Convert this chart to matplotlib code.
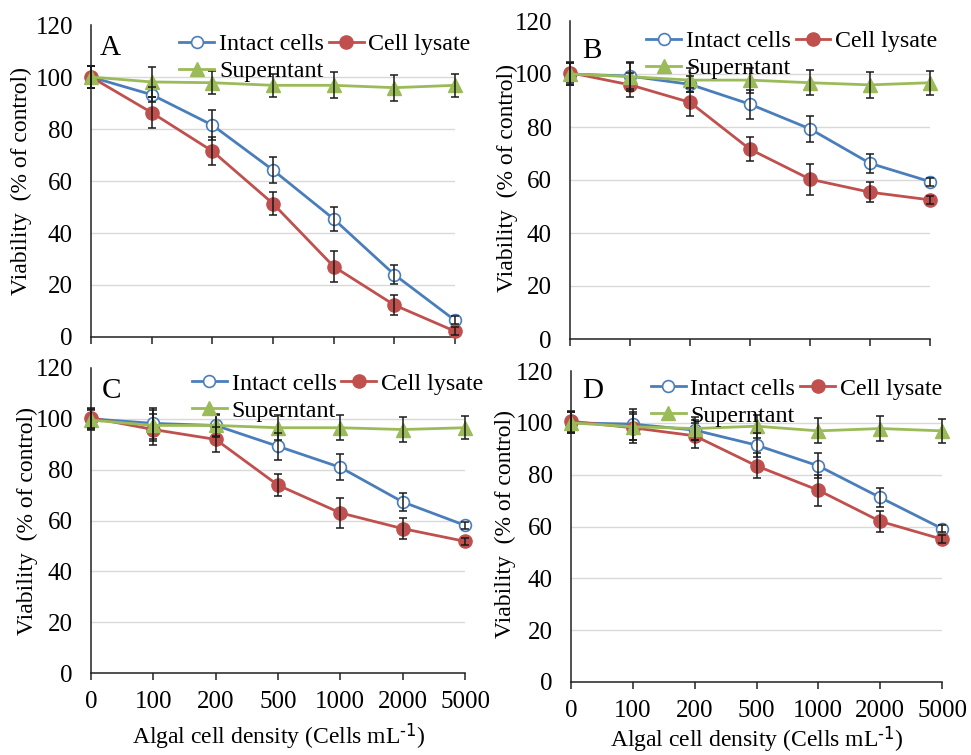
import matplotlib
matplotlib.use("Agg")
import matplotlib.pyplot as plt

plt.rcParams['font.family'] = ['Liberation Serif', 'DejaVu Serif']
plt.rcParams['mathtext.default'] = 'regular'

categories = ['0', '100', '200', '500', '1000', '2000', '5000']
series_names = ['Intact cells', 'Cell lysate', 'Superntant']
panel_labels = ['A', 'B', 'C', 'D']

intact_A = [100, 93.2, 81.5, 64.2, 45.4, 24.0, 6.4]
intact_A_err = [4.3, 3.0, 5.7, 5.0, 4.7, 3.5, 1.5]
lysate_A = [100, 86.3, 71.5, 51.3, 27.1, 12.3, 2.2]
lysate_A_err = [4.3, 6.0, 5.3, 4.5, 6.0, 4.0, 1.5]
super_A = [100, 98.1, 97.8, 96.8, 96.8, 95.9, 96.8]
super_A_err = [4.3, 5.7, 4.5, 4.5, 5.0, 5.0, 4.5]

intact_B = [100, 99.2, 96.1, 88.6, 79.3, 66.3, 59.4]
intact_B_err = [4.0, 5.0, 3.0, 5.5, 4.8, 3.7, 1.5]
lysate_B = [100.5, 95.9, 89.3, 71.6, 60.3, 55.4, 52.5]
lysate_B_err = [4.0, 4.5, 5.3, 4.6, 5.8, 3.8, 1.5]
super_B = [100, 99.0, 97.7, 97.7, 96.7, 95.9, 96.7]
super_B_err = [4.0, 5.5, 4.5, 4.7, 4.8, 4.8, 4.5]

intact_C = [100, 98.2, 97.4, 89.2, 80.9, 67.3, 58.1]
intact_C_err = [4.0, 6.0, 4.0, 5.2, 5.1, 3.6, 1.5]
lysate_C = [100.4, 95.8, 91.9, 73.9, 63.0, 56.8, 51.8]
lysate_C_err = [4.0, 6.0, 5.0, 4.3, 6.0, 4.1, 1.5]
super_C = [99.5, 97.4, 97.4, 96.5, 96.5, 95.8, 96.5]
super_C_err = [4.0, 6.0, 4.5, 4.9, 5.0, 5.0, 4.5]

intact_D = [100, 99.5, 97.2, 91.4, 83.4, 71.2, 59.2]
intact_D_err = [4.0, 6.0, 4.0, 4.7, 4.8, 3.5, 1.5]
lysate_D = [100.6, 98.1, 95.0, 83.4, 74.0, 62.0, 55.1]
lysate_D_err = [4.0, 6.0, 4.8, 4.8, 6.0, 4.0, 1.5]
super_D = [100, 98.5, 97.8, 98.7, 96.9, 97.8, 96.9]
super_D_err = [4.0, 5.0, 4.5, 4.5, 4.8, 5.0, 4.5]

yticks = [0, 20, 40, 60, 80, 100, 120]

panels = [
    (intact_A, intact_A_err, lysate_A, lysate_A_err, super_A, super_A_err),
    (intact_B, intact_B_err, lysate_B, lysate_B_err, super_B, super_B_err),
    (intact_C, intact_C_err, lysate_C, lysate_C_err, super_C, super_C_err),
    (intact_D, intact_D_err, lysate_D, lysate_D_err, super_D, super_D_err),
]

W, H = 971, 755
fig = plt.figure(figsize=(W / 100, H / 100), dpi=100)

def px_axes(left, right, y0, ytop):
    return [left / W, 1 - y0 / H, (right - left) / W, (y0 - ytop) / H]

axes_rects = [
    px_axes(91, 455, 337, 25),
    px_axes(570, 930, 339, 21),
    px_axes(91, 465, 673, 368),
    px_axes(571, 942, 682, 371),
]
legend_anchor = [(0.243, 0.973), (0.212, 0.970), (0.270, 0.984), (0.215, 0.978)]
letter_pos = [(100, 55), (582, 58), (102, 398), (582, 398)]
ylabel_pos = [(21, 181), (507, 178), (27, 521), (505, 524)]
xlabel_pos = [None, None, (279, 737), (757, 740)]

blue = '#4A7EBB'
red = '#C0504D'
green = '#9BBB59'
FS = 18
LFS = 17.3

x = list(range(len(categories)))

for i, (rect, data) in enumerate(zip(axes_rects, panels)):
    ax = fig.add_axes(rect)
    ii, iie, ll, lle, ss, sse = data
    for vals, errs in ((ii, iie), (ll, lle), (ss, sse)):
        ax.errorbar(x, vals, yerr=errs, fmt='none', ecolor='#1a1a1a',
                    elinewidth=1.1, capsize=3.2, capthick=1.1, zorder=4, clip_on=False)
    h_int, = ax.plot(x, ii, color=blue, lw=2.0, marker='o', ms=8.5, mfc='white',
                     mec=blue, mew=1.2, zorder=3, clip_on=False, label=series_names[0])
    h_lys, = ax.plot(x, ll, color=red, lw=2.0, marker='o', ms=9.5, mfc=red,
                     mec=red, zorder=3, clip_on=False, label=series_names[1])
    h_sup, = ax.plot(x, ss, color=green, lw=2.0, marker='^', ms=10, mfc=green,
                     mec=green, zorder=3, clip_on=False, label=series_names[2])
    ax.set_xlim(0, len(categories) - 1)
    ax.set_ylim(0, 120)
    ax.set_yticks(yticks)
    ax.set_yticklabels([str(t) for t in yticks], fontsize=FS)
    ax.set_xticks(x)
    if i >= 2:
        ax.set_xticklabels(categories, fontsize=FS)
    else:
        ax.set_xticklabels([])
    ax.tick_params(axis='y', length=0, pad=13)
    ax.tick_params(axis='x', length=5, width=1.1, direction='out', pad=8, color='#222222')
    ax.yaxis.grid(True, color='#D9D9D9', lw=1.0)
    ax.get_ygridlines()[-1].set_visible(False)
    ax.set_axisbelow(True)
    for s in ('top', 'right'):
        ax.spines[s].set_visible(False)
    for s in ('left', 'bottom'):
        ax.spines[s].set_color('#222222')
        ax.spines[s].set_linewidth(1.1)
    ax.legend(handles=[h_int, h_sup, h_lys], ncol=2, frameon=False, loc='upper left',
              bbox_to_anchor=legend_anchor[i], borderaxespad=0, borderpad=0,
              handlelength=1.45, handletextpad=0.2, columnspacing=0.2,
              labelspacing=0.22, fontsize=LFS, numpoints=1)
    lx, ly = letter_pos[i]
    fig.text(lx / W, 1 - ly / H, panel_labels[i], fontsize=21, ha='left', va='baseline')
    yx, yy = ylabel_pos[i]
    fig.text(yx / W, 1 - yy / H, 'Viability  (% of control)', fontsize=17,
             rotation=90, ha='center', va='center')
    if xlabel_pos[i] is not None:
        xx, xy = xlabel_pos[i]
        fig.text(xx / W, 1 - xy / H, r'Algal cell density (Cells mL$^{\text{-1}}$)', fontsize=17,
                 ha='center', va='center')

fig.savefig('out.png', dpi=100)
